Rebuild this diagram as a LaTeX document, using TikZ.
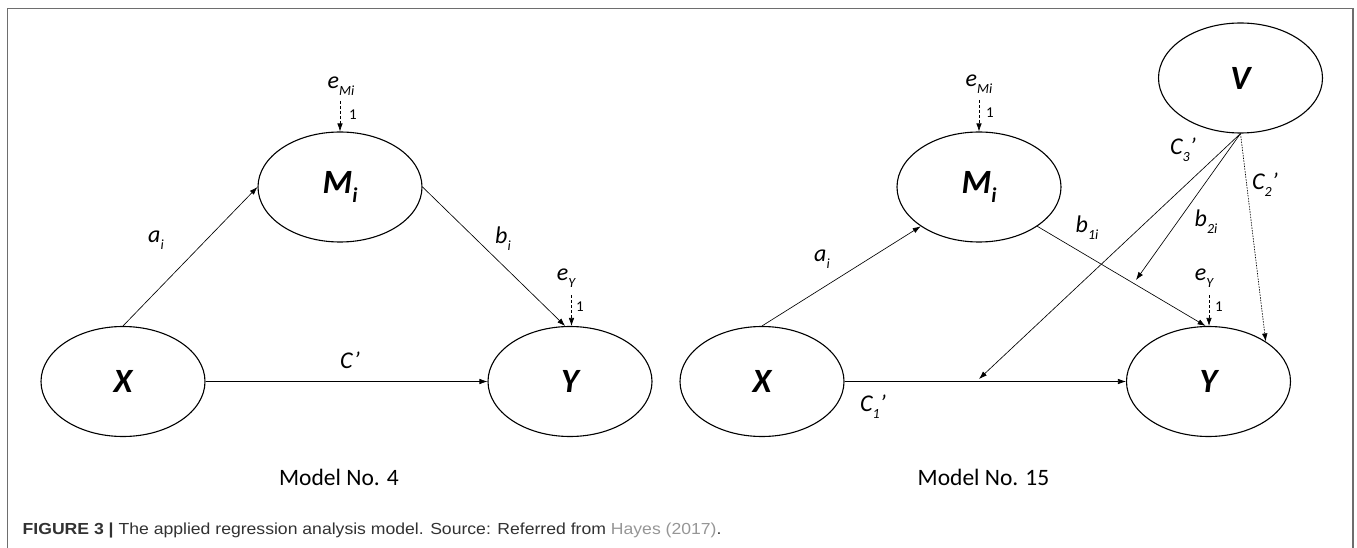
\documentclass[tikz,border=0pt]{standalone}
\usepackage{fontspec}
\setmainfont{Carlito}
\newfontfamily\capfont{Liberation Sans}[FakeStretch=1.1]
\usetikzlibrary{arrows.meta,shapes.geometric}
\definecolor{framegray}{RGB}{110,110,110}
\definecolor{capgray}{RGB}{50,50,50}
\definecolor{linkgray}{RGB}{150,150,150}
\newcommand{\lsub}[1]{\raisebox{-0.3em}{\fontsize{14}{14}\selectfont #1}}
\newcommand{\vsub}[1]{\raisebox{-0.25em}{\fontsize{21}{21}\selectfont #1}}
\begin{document}
\begin{tikzpicture}[x=1pt,y=-1pt,
  var/.style={draw, ellipse, line width=1.1pt, minimum width=164pt, minimum height=110pt, inner sep=0pt,
    font=\fontsize{34}{34}\selectfont\bfseries\itshape},
  arr/.style={-{Latex[length=8pt,width=5.5pt]}, line width=0.65pt},
  err/.style={arr, dash pattern=on 3pt off 2pt},
  dotarr/.style={arr, dash pattern=on 1.5pt off 1.2pt},
  lbl/.style={font=\fontsize{24}{24}\selectfont\itshape, inner sep=0pt},
  one/.style={font=\fontsize{15}{15}\selectfont, inner sep=0pt},
  model/.style={font=\fontsize{23.5}{23.5}\selectfont, inner sep=0pt}]
\useasboundingbox (0,0) rectangle (1357,548);
\draw[framegray, line width=1.3pt] (7.5,548) -- (7.5,8.5) -- (1353,8.5) -- (1353,548);

% ---------- Model No. 4 ----------
\node[var] (X1) at (123,381.5) {X};
\node[var] (M1) at (340,187) {M\vsub{i}};
\node[var] (Y1) at (570,381.5) {Y};
\draw[arr] (X1.north) -- (M1.west);
\draw[arr] (M1.east) -- (Y1.95);
\draw[arr] (X1.east) -- (Y1.west);
\node[lbl] (eM1) at (341,86) {e\lsub{Mi}};
\coordinate (eM1s) at (340,101);
\draw[err] (eM1s) -- (M1.north);
\node[one] (o1) at (353,115) {1};
\node[lbl] (eY1) at (566,278) {e\lsub{Y}};
\coordinate (eY1s) at (571.5,295);
\draw[err] (eY1s) -- (eY1s |- Y1.north);
\node[one] (o2) at (580,307) {1};
\node[lbl] (a1) at (156,240) {a\lsub{i}};
\node[lbl] (b1) at (503,239) {b\lsub{i}};
\node[lbl] (c1) at (350,360) {C’};
\node[model] (m4) at (339,477) {Model No. 4};

% ---------- Model No. 15 ----------
\node[var] (X2) at (762,381.5) {X};
\node[var] (M2) at (979,187) {M\vsub{i}};
\node[var] (Y2) at (1208.5,381.5) {Y};
\node[var] (V2) at (1240.5,78) {V};
\draw[arr] (X2.north) -- (M2.214);
\draw[arr] (M2.-34) -- (Y2.93);
\draw[arr] (X2.east) -- (Y2.west);
\coordinate (t3) at (979,379);
\coordinate (t2) at (1136,280);
\draw[arr] (V2.south) -- (t3);
\draw[arr] (V2.south) -- (t2);
\draw[dotarr] (V2.south) -- (Y2.35);
\node[lbl] (eM2) at (979,84) {e\lsub{Mi}};
\coordinate (eM2s) at (979,100);
\draw[err] (eM2s) -- (M2.north);
\node[one] (o3) at (990,113) {1};
\node[lbl] (eY2) at (1204,278) {e\lsub{Y}};
\coordinate (eY2s) at (1209,295);
\draw[err] (eY2s) -- (eY2s |- Y2.north);
\node[one] (o4) at (1219,307) {1};
\node[lbl] (a2) at (822,259) {a\lsub{i}};
\node[lbl] (b12) at (1087,228) {b\lsub{1i}};
\node[lbl] (b22) at (1206,222) {b\lsub{2i}};
\node[lbl] (c3) at (1183,150) {C\lsub{3}’};
\node[lbl] (c2) at (1265,185) {C\lsub{2}’};
\node[lbl] (c12) at (873,407) {C\lsub{1}’};
\node[model] (m15) at (983.5,477) {Model No. 15};

% ---------- caption ----------
\node[anchor=base west, inner sep=0pt, font=\capfont\fontsize{16}{16}\selectfont, text=capgray] (cap) at (22.5,534)
  {\textbf{FIGURE 3 |} The applied regression analysis model. Source: Referred from \textcolor{linkgray}{Hayes (2017)}.};
\end{tikzpicture}
\end{document}
